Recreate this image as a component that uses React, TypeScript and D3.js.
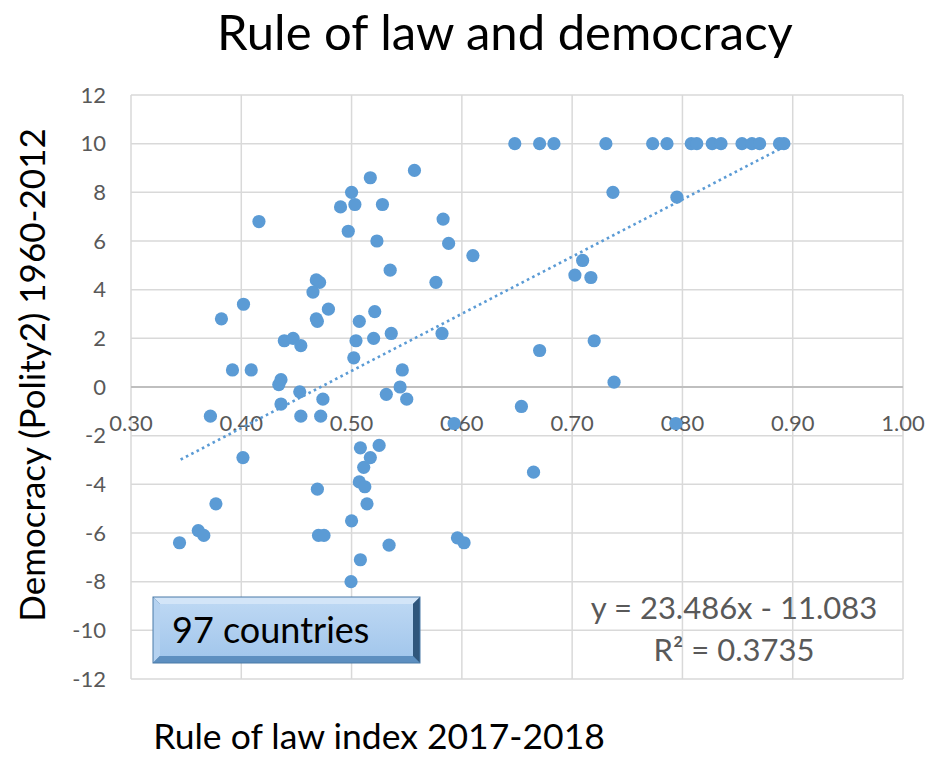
import React from "react";
import * as d3 from "d3";

const ruleOfLaw: number[] = [
  0.416, 0.517, 0.5, 0.49, 0.503, 0.528, 0.497, 0.523, 0.468, 0.471,
  0.465, 0.479, 0.402, 0.382, 0.468, 0.469, 0.507, 0.521, 0.439, 0.447,
  0.454, 0.504, 0.52, 0.502, 0.392, 0.409, 0.436, 0.434, 0.453, 0.474,
  0.436, 0.372, 0.454, 0.472, 0.4015, 0.377, 0.361, 0.366, 0.344, 0.469,
  0.47, 0.475, 0.5, 0.508, 0.4995, 0.508, 0.517, 0.525, 0.511, 0.507,
  0.512, 0.514, 0.5315, 0.544, 0.55, 0.654, 0.593, 0.794, 0.665, 0.596,
  0.602, 0.534, 0.557, 0.583, 0.588, 0.61, 0.535, 0.5765, 0.536, 0.582,
  0.546, 0.6705, 0.72, 0.738, 0.7025, 0.7095, 0.717, 0.737, 0.795,
  0.648, 0.6705, 0.6835, 0.7306, 0.773, 0.786, 0.808, 0.813, 0.827, 0.835,
  0.854, 0.863, 0.87, 0.888, 0.892,
];

const polity2: number[] = [
  6.8, 8.6, 8.0, 7.4, 7.5, 7.5, 6.4, 6.0, 4.4, 4.3,
  3.9, 3.2, 3.4, 2.8, 2.8, 2.7, 2.7, 3.1, 1.9, 2.0,
  1.7, 1.9, 2.0, 1.2, 0.7, 0.7, 0.3, 0.1, -0.2, -0.5,
  -0.7, -1.2, -1.2, -1.2, -2.9, -4.8, -5.9, -6.1, -6.4, -4.2,
  -6.1, -6.1, -5.5, -7.1, -8.0, -2.5, -2.9, -2.4, -3.3, -3.9,
  -4.1, -4.8, -0.3, 0.0, -0.5, -0.8, -1.5, -1.5, -3.5, -6.2,
  -6.4, -6.5, 8.9, 6.9, 5.9, 5.4, 4.8, 4.3, 2.2, 2.2,
  0.7, 1.5, 1.9, 0.2, 4.6, 5.2, 4.5, 8.0, 7.8,
  10, 10, 10, 10, 10, 10, 10, 10, 10, 10,
  10, 10, 10, 10, 10,
];

const xTicks: number[] = [0.3, 0.4, 0.5, 0.6, 0.7, 0.8, 0.9, 1.0];
const yTicks: number[] = [-12, -10, -8, -6, -4, -2, 0, 2, 4, 6, 8, 10, 12];
const trendSlope = 23.486;
const trendIntercept = -11.083;
const trendRange: number[] = [0.345, 0.89];

const title = "Rule of law and democracy";
const xTitle = "Rule of law index 2017-2018";
const yTitle = "Democracy (Polity2) 1960-2012";
const boxText = "97 countries";
const eqText = "y = 23.486x - 11.083";
const r2Text = "R² = 0.3735";

const W = 928;
const H = 757;
const FONT = "Lato, 'Open Sans', sans-serif";
const BLUE = "#5B9BD5";
const GRID = "#d9d9d9";
const LABEL = "#595959";

export default function App() {
  const x = d3.scaleLinear().domain([0.3, 1.0]).range([131, 903]);
  const y = d3.scaleLinear().domain([-12, 12]).range([679, 95]);
  const line = d3
    .line<number>()
    .x((d) => x(d))
    .y((d) => y(trendSlope * d + trendIntercept));

  const bx = 153, by = 597, bw = 267, bh = 66, bev = 7;

  return (
    <svg
      width={W}
      height={H}
      style={{ position: "absolute", left: 0, top: 0, background: "#fff" }}
      fontFamily={FONT}
    >
      <defs>
        <linearGradient id="boxFace" x1="0" y1="0" x2="0" y2="1">
          <stop offset="0%" stopColor="#bcd7f3" />
          <stop offset="100%" stopColor="#a3c7ec" />
        </linearGradient>
      </defs>
      <rect x={0} y={0} width={W} height={H} fill="#fff" />
      {/* grid */}
      {xTicks.map((t) => (
        <line key={"gx" + t} x1={x(t)} x2={x(t)} y1={y(12)} y2={y(-12)} stroke={GRID} strokeWidth={1.5} />
      ))}
      {yTicks.map((t) => (
        <line
          key={"gy" + t}
          x1={x(0.3)}
          x2={x(1.0)}
          y1={y(t)}
          y2={y(t)}
          stroke={t === 0 ? "#bfbfbf" : GRID}
          strokeWidth={t === 0 ? 2 : 1.5}
        />
      ))}
      {/* y tick labels */}
      {yTicks.map((t) => (
        <text key={"yl" + t} x={106} y={y(t)} dy="0.35em" textAnchor="end" fontSize={22} fill={LABEL}>
          {t}
        </text>
      ))}
      {/* x tick labels */}
      {xTicks.map((t) => (
        <text key={"xl" + t} x={x(t)} y={y(0) + 44} textAnchor="middle" fontSize={22} fill={LABEL}>
          {d3.format(".2f")(t)}
        </text>
      ))}
      {/* trendline */}
      <path
        d={line(trendRange) || ""}
        fill="none"
        stroke={BLUE}
        strokeWidth={2.6}
        strokeDasharray="2.6,3.4"
      />
      {/* points */}
      {ruleOfLaw.map((v, i) => (
        <circle key={"p" + i} cx={x(v)} cy={y(polity2[i])} r={6.6} fill={BLUE} />
      ))}
      {/* title */}
      <text x={505} y={50} textAnchor="middle" fontSize={49} fill="#000">
        {title}
      </text>
      {/* axis titles */}
      <text x={379} y={749} textAnchor="middle" fontSize={35.5} fill="#000">
        {xTitle}
      </text>
      <text
        transform={`translate(45, 375) rotate(-90)`}
        textAnchor="middle"
        fontSize={35}
        fill="#000"
      >
        {yTitle}
      </text>
      {/* box */}
      <g>
        <rect x={bx} y={by} width={bw} height={bh} fill="#3f6f9e" />
        <polygon
          points={`${bx},${by} ${bx + bw},${by} ${bx + bw - bev},${by + bev} ${bx + bev},${by + bev}`}
          fill="#d3e5f8"
        />
        <polygon
          points={`${bx},${by} ${bx + bev},${by + bev} ${bx + bev},${by + bh - bev} ${bx},${by + bh}`}
          fill="#b5d2f0"
        />
        <polygon
          points={`${bx + bw},${by} ${bx + bw},${by + bh} ${bx + bw - bev},${by + bh - bev} ${bx + bw - bev},${by + bev}`}
          fill="#2f567c"
        />
        <polygon
          points={`${bx},${by + bh} ${bx + bw},${by + bh} ${bx + bw - bev},${by + bh - bev} ${bx + bev},${by + bh - bev}`}
          fill="#5d8fc0"
        />
        <rect x={bx + bev} y={by + bev} width={bw - 2 * bev} height={bh - 2 * bev} fill="url(#boxFace)" />
        <rect x={bx} y={by} width={bw} height={bh} fill="none" stroke="#4a7aa8" strokeWidth={1} />
        <text x={bx + 19} y={by + 46} fontSize={36} fill="#000">
          {boxText}
        </text>
      </g>
      {/* equation */}
      <text x={734} y={619} textAnchor="middle" fontSize={31} fill={LABEL}>
        {eqText}
      </text>
      <text x={734} y={661} textAnchor="middle" fontSize={31} fill={LABEL}>
        {r2Text}
      </text>
    </svg>
  );
}
